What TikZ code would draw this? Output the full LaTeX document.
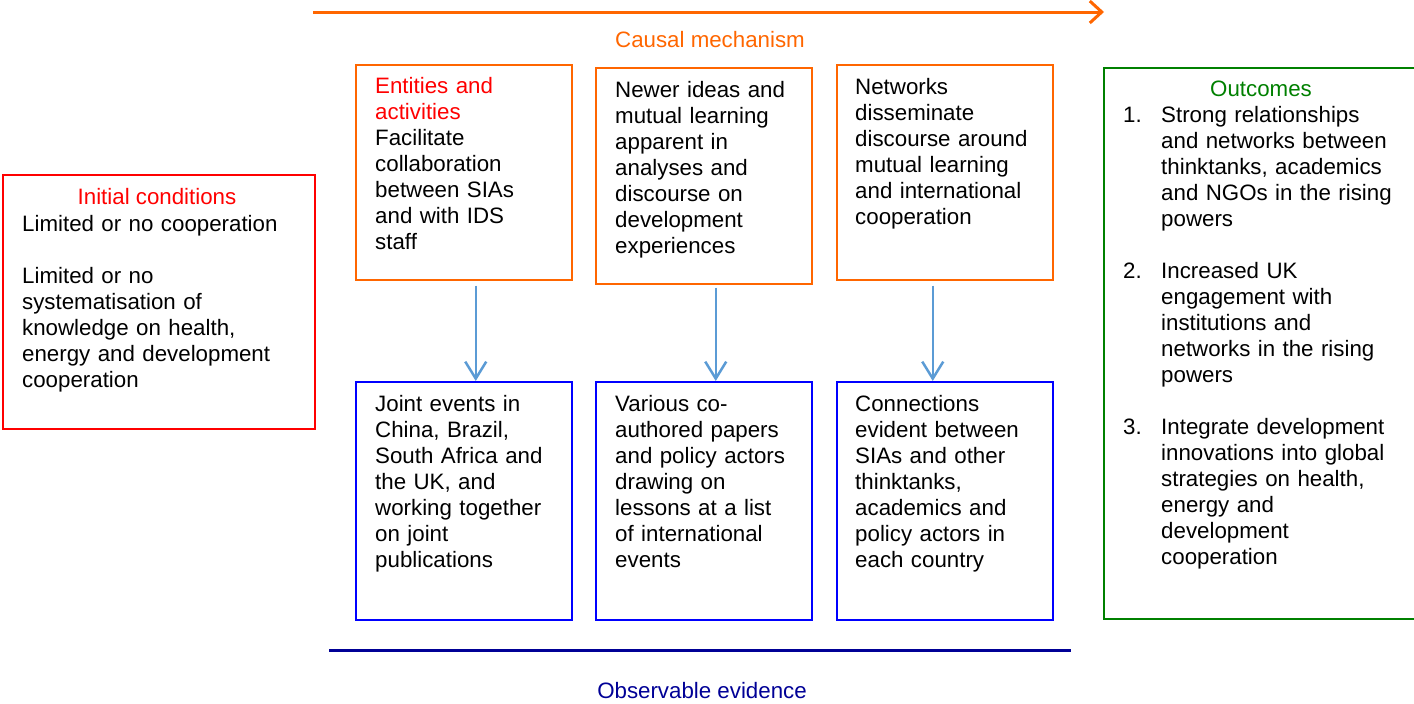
\documentclass[tikz,border=0pt]{standalone}
\usepackage{fontspec}
\setmainfont{Liberation Sans}
\usetikzlibrary{arrows.meta}
\definecolor{orng}{RGB}{255,102,0}
\definecolor{redc}{RGB}{255,0,0}
\definecolor{bluec}{RGB}{0,0,255}
\definecolor{greenc}{RGB}{0,128,0}
\definecolor{navyc}{RGB}{0,0,150}
\definecolor{arrblue}{RGB}{91,155,213}
\newcommand{\diagfont}{\fontsize{22.3}{26}\selectfont}
\tikzset{
  boxx/.style={draw, line width=1.5pt, inner sep=0pt, anchor=north west},
  txt/.style={anchor=base west, inner sep=0pt, text width=#1, align=left, font=\diagfont},
  ctxt/.style={anchor=base, inner sep=0pt, font=\diagfont},
  downarr/.style={draw=arrblue, line width=2.5pt, -{Straight Barb[length=17pt,width=21pt]}},
}
\begin{document}
\begin{tikzpicture}[x=1pt,y=-1pt]
\useasboundingbox (0,0) rectangle (1414,704);

% top arrow and label
\coordinate (cs) at (313,12);
\coordinate (ce) at (1104,12);
\draw[orng, line width=3pt, -{Straight Barb[length=12pt,width=22pt]}] (cs) -- (ce);
\node[ctxt, text=orng] (cm) at (710,47) {Causal mechanism};

% initial conditions
\node[boxx, draw=redc, minimum width=312pt, minimum height=254pt] (init) at (2,174) {};
\node[ctxt, text=redc] (inith) at (157,204) {Initial conditions};
\node[txt=290pt] (initt) at (22,231) {Limited or no cooperation\\[26pt]Limited or no\\systematisation of\\knowledge on health,\\energy and development\\cooperation};

% orange boxes
\node[boxx, draw=orng, minimum width=216pt, minimum height=215pt] (o1) at (355,64) {};
\node[boxx, draw=orng, minimum width=216pt, minimum height=216pt] (o2) at (595,67) {};
\node[boxx, draw=orng, minimum width=216pt, minimum height=215pt] (o3) at (836,64) {};
\node[txt=210pt] (o1t) at (375,93.5) {{\color{redc}Entities and\\activities}\\Facilitate\\collaboration\\between SIAs\\and with IDS\\staff};
\node[txt=210pt] (o2t) at (615,97) {Newer ideas and\\mutual learning\\apparent in\\analyses and\\discourse on\\development\\experiences};
\node[txt=210pt] (o3t) at (855,94) {Networks\\disseminate\\discourse around\\mutual learning\\and international\\cooperation};

% blue boxes
\node[boxx, draw=bluec, minimum width=216pt, minimum height=238pt] (b1) at (355,381) {};
\node[boxx, draw=bluec, minimum width=216pt, minimum height=238pt] (b2) at (595,381) {};
\node[boxx, draw=bluec, minimum width=216pt, minimum height=238pt] (b3) at (836,381) {};
\node[txt=210pt] (b1t) at (375,411) {Joint events in\\China, Brazil,\\South Africa and\\the UK, and\\working together\\on joint\\publications};
\node[txt=210pt] (b2t) at (615,411) {Various co-\\authored papers\\and policy actors\\drawing on\\lessons at a list\\of international\\events};
\node[txt=210pt] (b3t) at (855,411) {Connections\\evident between\\SIAs and other\\thinktanks,\\academics and\\policy actors in\\each country};

% arrows
\draw[downarr] ([xshift=12pt,yshift=-5pt]o1.south) -- ([xshift=12pt]b1.north);
\draw[downarr] ([xshift=12pt,yshift=-3pt]o2.south) -- ([xshift=12pt]b2.north);
\draw[downarr] ([xshift=-12pt,yshift=-5pt]o3.south) -- ([xshift=-12pt]b3.north);

% outcomes
\node[boxx, draw=greenc, minimum width=313pt, minimum height=551pt] (out) at (1103,67) {};
\node[ctxt, text=greenc] (outh) at (1261,96) {Outcomes};
\node[txt=40pt] (n1) at (1123,122) {1.};
\node[txt=250pt] (i1) at (1161,122) {Strong relationships\\and networks between\\thinktanks, academics\\and NGOs in the rising\\powers};
\node[txt=40pt] (n2) at (1123,278) {2.};
\node[txt=250pt] (i2) at (1161,278) {Increased UK\\engagement with\\institutions and\\networks in the rising\\powers};
\node[txt=40pt] (n3) at (1123,434) {3.};
\node[txt=250pt] (i3) at (1161,434) {Integrate development\\innovations into global\\strategies on health,\\energy and\\development\\cooperation};

% bottom line and label
\coordinate (ls) at (329,650);
\coordinate (le) at (1071,650);
\draw[navyc, line width=3pt] (ls) -- (le);
\node[ctxt, text=navyc] (oe) at (702,698) {Observable evidence};
\end{tikzpicture}
\end{document}
